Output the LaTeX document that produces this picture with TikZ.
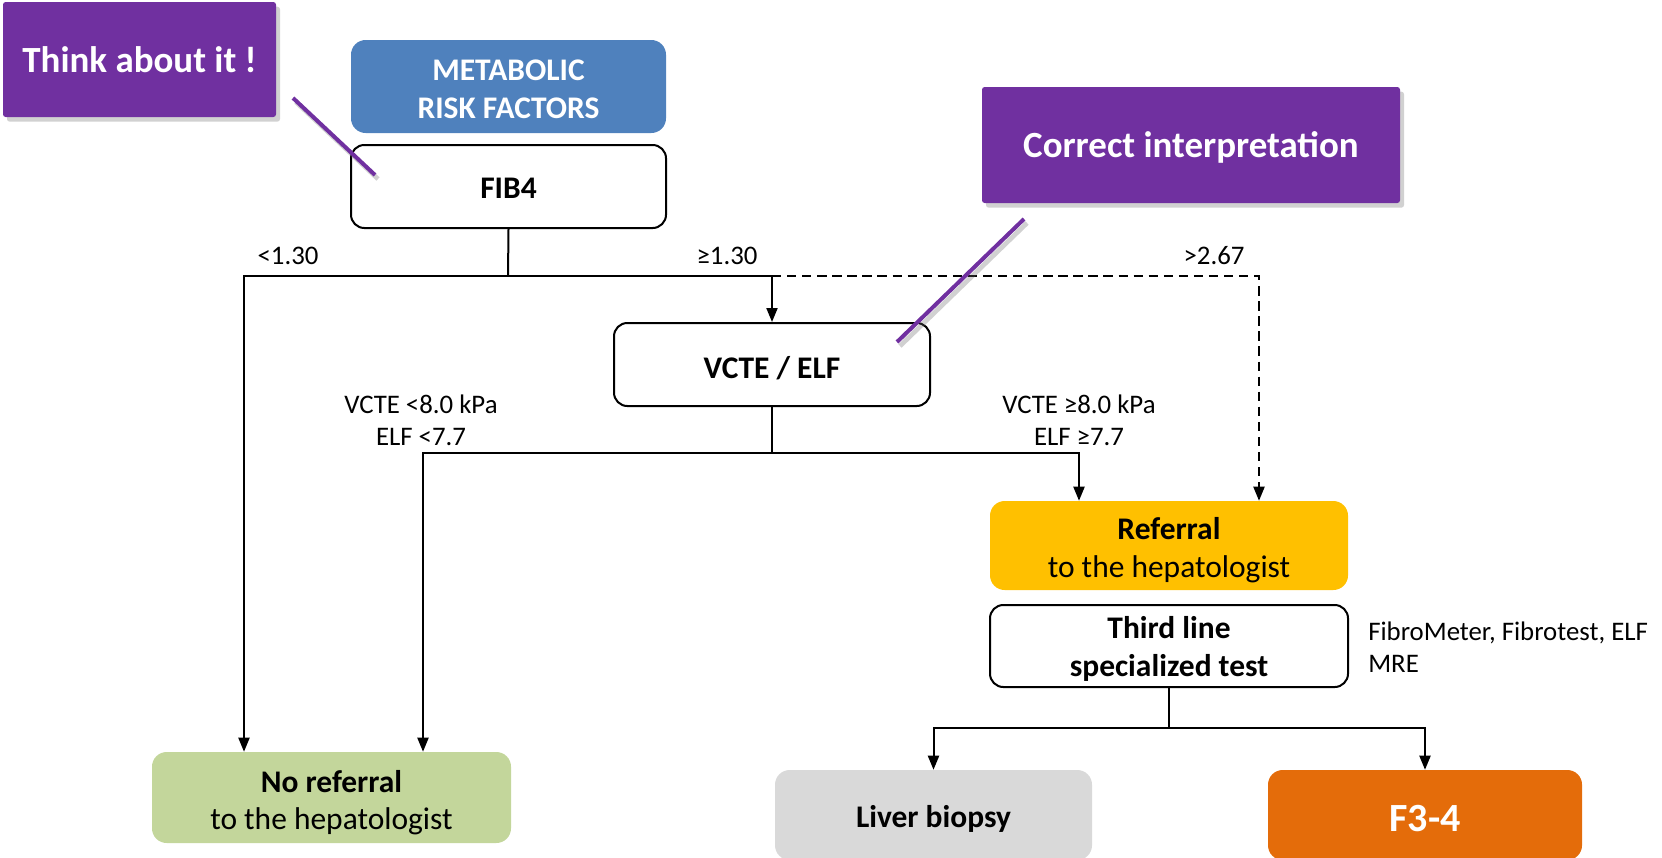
\documentclass[tikz,border=0pt]{standalone}
\usepackage{fontspec}
\setmainfont{Carlito}
\usetikzlibrary{arrows.meta,shadows}
\definecolor{purp}{HTML}{7030A0}
\definecolor{blu}{HTML}{4F81BD}
\definecolor{gold}{HTML}{FFC000}
\definecolor{leaf}{HTML}{C3D69B}
\definecolor{silver}{HTML}{D9D9D9}
\definecolor{rust}{HTML}{E46C0A}
\newcommand\bxfont{\fontsize{23.6}{28.5}\selectfont}
\newcommand\lblfont{\fontsize{20.1}{24}\selectfont}
\newcommand\callfont{\fontsize{27.7}{33}\selectfont\bfseries}

\begin{document}
\begin{tikzpicture}[x=0.75pt,y=-0.75pt,
  shape only/.style={inner sep=0pt},
  outline/.style={shape only,draw=black,line width=1.5pt,fill=white,rounded corners=10pt},
  filled/.style={shape only,rounded corners=11pt},
  callout/.style={shape only,fill=purp,rounded corners=2pt,
    drop shadow={shadow xshift=3pt,shadow yshift=-3.5pt,opacity=.3,fill=black!60}},
  txt/.style={inner sep=0pt,align=center,font=\bxfont},
  conn/.style={line width=1.5pt},
  arr/.style={conn,-{Triangle[length=10.5pt,width=8.25pt]}},
  lbl/.style={inner sep=0pt,font=\lblfont,align=center},
  pointer/.style={line width=3pt,purp},
  pshadow/.style={line width=3.5pt,black!60,opacity=.3}]
\useasboundingbox (0,0) rectangle (1662,857);

% box shapes
\node[callout,minimum width=204.75pt,minimum height=86.25pt] (think) at (139.5,59.5) {};
\node[filled,fill=blu,minimum width=236.25pt,minimum height=69.75pt] (meta) at (508.5,86.5) {};
\node[outline,minimum width=236.25pt,minimum height=62.25pt] (fib) at (508.5,186.5) {};
\node[callout,minimum width=313.5pt,minimum height=87pt] (corr) at (1191,145) {};
\node[outline,minimum width=237pt,minimum height=62.25pt] (vcte) at (772,364.5) {};
\node[filled,fill=gold,minimum width=268.5pt,minimum height=66.75pt] (ref) at (1169,545.5) {};
\node[outline,minimum width=268.5pt,minimum height=61.5pt] (third) at (1169,646) {};
\node[filled,fill=leaf,minimum width=269.25pt,minimum height=68.25pt] (noref) at (331.5,797.5) {};
\node[filled,fill=silver,minimum width=237.75pt,minimum height=67.5pt] (liver) at (933.5,815) {};
\node[filled,fill=rust,minimum width=235.5pt,minimum height=67.5pt] (f34) at (1425,815) {};

% box texts
\node[txt,text=white,font=\callfont] (thinkt) at (think.center) {Think about it !};
\node[txt,text=white,font=\bxfont\bfseries,yshift=-2.4pt] (metat) at (meta.center) {METABOLIC\\RISK FACTORS};
\node[txt,font=\bxfont\bfseries,yshift=-1.6pt] (fibt) at (fib.center) {FIB4};
\node[txt,text=white,font=\callfont,yshift=-1.6pt] (corrt) at (corr.center) {Correct interpretation};
\node[txt,font=\bxfont\bfseries,yshift=-2.4pt] (vctet) at (vcte.center) {VCTE / ELF};
\node[txt,yshift=-3.2pt] (reft) at (ref.center) {\textbf{Referral}\\to the hepatologist};
\node[txt,font=\bxfont\bfseries,yshift=-2.4pt] (thirdt) at (third.center) {Third line\\specialized test};
\node[txt,font=\fontsize{23.6}{27.75}\selectfont,yshift=-3.6pt] (noreft) at (noref.center) {\textbf{No referral}\\to the hepatologist};
\node[txt,font=\bxfont\bfseries,yshift=-3.2pt] (livert) at (liver.center) {Liver biopsy};
\node[txt,text=white,font=\fontsize{30}{36}\selectfont\bfseries,yshift=-2.4pt] (f34t) at (f34.center) {F3-4};

% branch labels
\node[lbl] (l130) at (288,256) {<1.30};
\node[lbl] (g130) at (727,256) {≥1.30};
\node[lbl] (g267) at (1214,256) {>2.67};
\node[lbl] (vlow) at (421,420.5) {VCTE <8.0 kPa\\ELF <7.7};
\node[lbl] (vhigh) at (1079,420.5) {VCTE ≥8.0 kPa\\ELF ≥7.7};
\node[lbl,align=left,anchor=west] (tests) at (1368,647.5) {FibroMeter, Fibrotest, ELF\\MRE};

% junction points
\coordinate (j1) at (508,276);
\coordinate (j2) at (772,276);
\coordinate (lft) at (244,276);
\coordinate (j3) at (1259,276);
\coordinate (j4) at (772,453);
\coordinate (l2) at (423,453);
\coordinate (r2) at (1079,453);
\coordinate (j5) at (1169,728);

% FIB4 branches
\draw[conn] (fib.south) -- (j1);
\draw[arr] (j2) -- (lft) -- (lft |- noref.north);
\draw[arr] (j2) -- (vcte.north);
\draw[arr,dashed,dash pattern=on 7pt off 4.3pt] (j2) -- (j3) -- (j3 |- ref.north);

% VCTE / ELF branches
\draw[conn] (vcte.south) -- (j4);
\draw[arr] (j4) -- (l2) -- (l2 |- noref.north);
\draw[arr] (j4) -- (r2) -- (r2 |- ref.north);

% third line branches
\draw[conn] (third.south) -- (j5);
\draw[arr] (j5) -| (liver.north);
\draw[arr] (j5) -| (f34.north);
\draw[line width=2.2pt] (liver.north |- j5) -- (f34.north |- j5);

% callout pointers
\coordinate (t1) at (293,98);
\coordinate (t2) at (375,175);
\coordinate (c1) at (1024,219);
\coordinate (c2) at (897,342);
\draw[pshadow] ([shift={(3,4)}]t1) -- ([shift={(3,4)}]t2);
\draw[pshadow] ([shift={(3,4)}]c1) -- ([shift={(3,4)}]c2);
\draw[pointer] (t1) -- (t2);
\draw[pointer] (c1) -- (c2);
\end{tikzpicture}
\end{document}
